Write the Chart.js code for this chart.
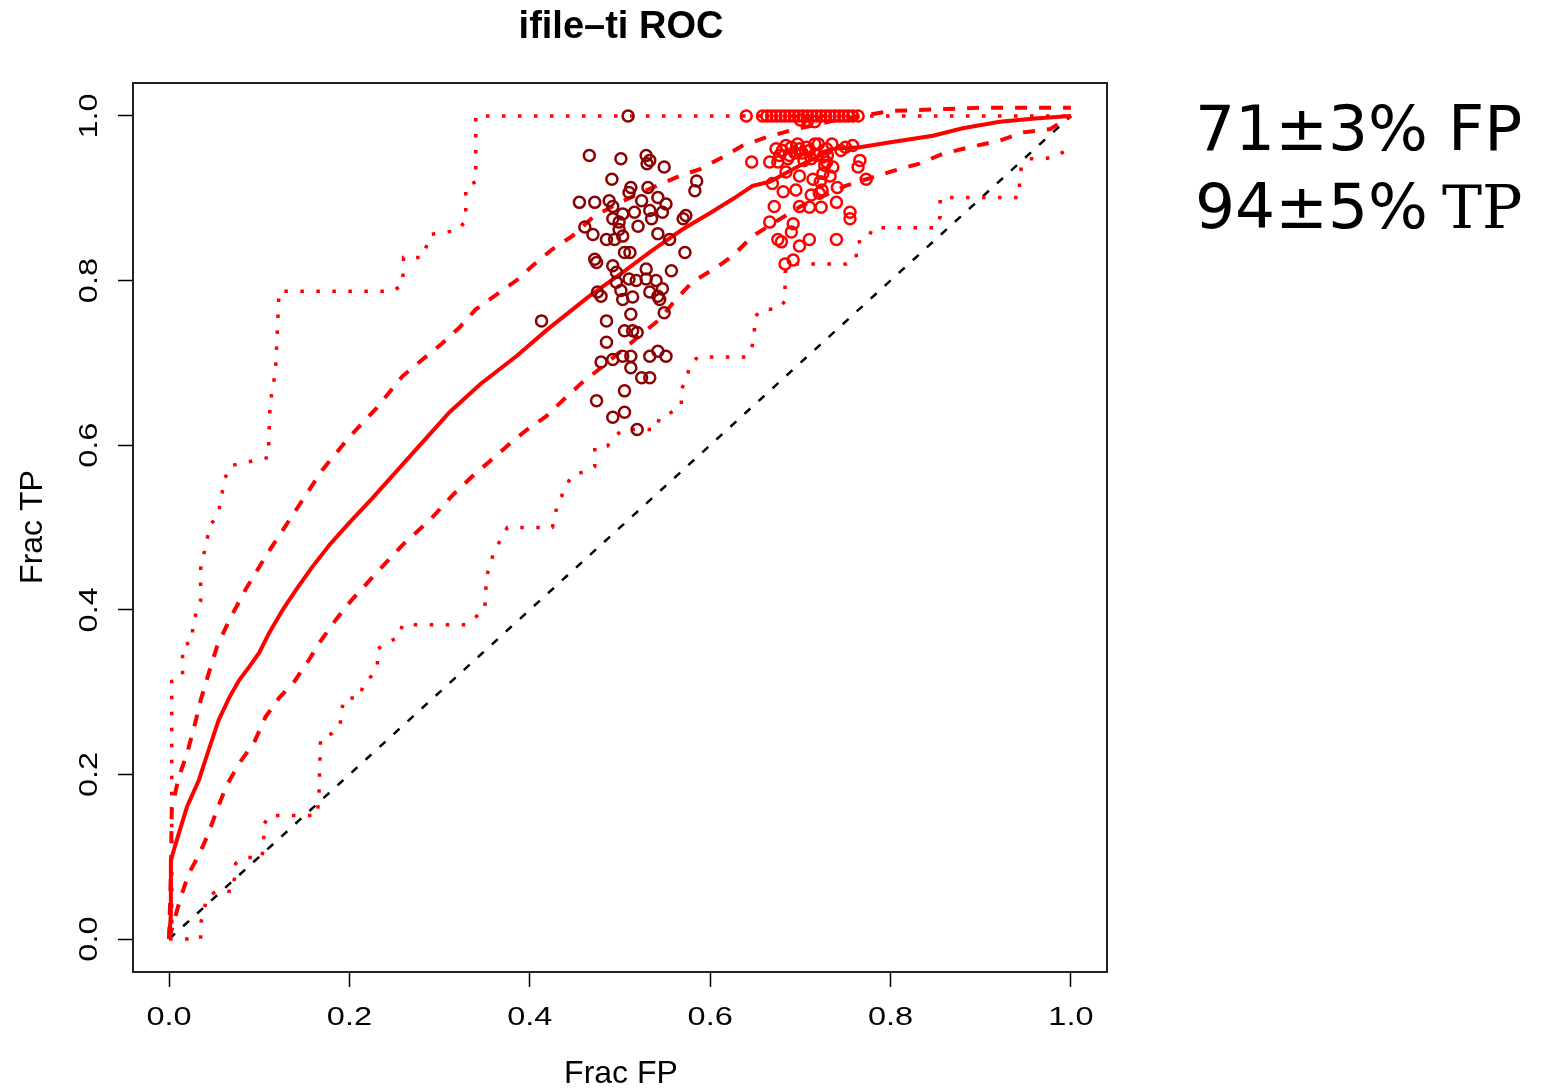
<!DOCTYPE html>
<html>
<head>
<title>ifile-ti ROC</title>
<script src="https://cdn.jsdelivr.net/npm/chart.js"></script>
<style>
  body { margin: 0; background: #fff; }
  #roc { display: block; }
</style>
</head>
<body>
<canvas id="roc" width="1544" height="1088"></canvas>
<script>
// axis ticks
const tickValues = [0, 0.2, 0.4, 0.6, 0.8, 1.0];
const tickLabels = ['0.0', '0.2', '0.4', '0.6', '0.8', '1.0'];

// mean ROC curve (solid)
const meanFP = [0, 0.002, 0.002, 0.011, 0.020, 0.033, 0.044, 0.055, 0.067, 0.078, 0.089, 0.100, 0.111, 0.126, 0.140, 0.158, 0.178, 0.20, 0.225, 0.26, 0.311, 0.345, 0.385, 0.42, 0.466, 0.503, 0.535, 0.569, 0.6, 0.625, 0.647, 0.666, 0.70, 0.736, 0.766, 0.8, 0.847, 0.88, 0.921, 0.96, 1.0];
const meanTP = [0, 0.03, 0.096, 0.129, 0.161, 0.193, 0.23, 0.266, 0.294, 0.315, 0.331, 0.348, 0.372, 0.40, 0.423, 0.451, 0.479, 0.506, 0.535, 0.578, 0.64, 0.674, 0.708, 0.741, 0.781, 0.81, 0.836, 0.862, 0.882, 0.899, 0.915, 0.92, 0.94, 0.96, 0.962, 0.968, 0.976, 0.985, 0.993, 0.997, 1.0];

// upper / lower dashed bands
const hiFP = [0, 0.002, 0.003, 0.011, 0.02, 0.028, 0.035, 0.044, 0.053, 0.067, 0.085, 0.11, 0.14, 0.17, 0.2, 0.23, 0.259, 0.281, 0.302, 0.322, 0.34, 0.363, 0.385, 0.403, 0.425, 0.447, 0.47, 0.5, 0.53, 0.566, 0.588, 0.614, 0.636, 0.662, 0.688, 0.74, 0.8, 0.9, 1.0];
const hiTP = [0, 0.08, 0.16, 0.197, 0.226, 0.258, 0.29, 0.323, 0.355, 0.388, 0.425, 0.47, 0.52, 0.57, 0.61, 0.645, 0.684, 0.704, 0.723, 0.743, 0.765, 0.783, 0.8, 0.818, 0.838, 0.854, 0.877, 0.895, 0.91, 0.927, 0.935, 0.95, 0.964, 0.974, 0.982, 0.995, 1.006, 1.01, 1.01];
const loFP = [0, 0.005, 0.013, 0.022, 0.033, 0.044, 0.053, 0.064, 0.078, 0.094, 0.107, 0.122, 0.139, 0.155, 0.168, 0.185, 0.201, 0.23, 0.26, 0.29, 0.315, 0.336, 0.355, 0.377, 0.397, 0.418, 0.44, 0.458, 0.48, 0.503, 0.544, 0.562, 0.58, 0.607, 0.625, 0.647, 0.7, 0.75, 0.802, 0.832, 0.858, 0.888, 0.921, 0.947, 0.977, 1.0];
const loTP = [0, 0.02, 0.051, 0.08, 0.102, 0.129, 0.157, 0.187, 0.214, 0.238, 0.27, 0.293, 0.313, 0.339, 0.362, 0.388, 0.41, 0.445, 0.48, 0.51, 0.54, 0.562, 0.58, 0.601, 0.619, 0.635, 0.658, 0.676, 0.695, 0.716, 0.753, 0.777, 0.798, 0.816, 0.83, 0.854, 0.89, 0.915, 0.933, 0.942, 0.954, 0.962, 0.97, 0.98, 0.984, 1.0];

// dotted step envelopes
const upStepFP = [0, 0.003, 0.003, 0.015, 0.015, 0.026, 0.026, 0.035, 0.035, 0.045, 0.055, 0.062, 0.068, 0.11, 0.112, 0.118, 0.122, 0.248, 0.259, 0.26, 0.281, 0.29, 0.32, 0.329, 0.329, 0.34, 0.34, 1.0];
const upStepTP = [0, 0.02, 0.313, 0.319, 0.356, 0.362, 0.384, 0.41, 0.45, 0.5, 0.52, 0.56, 0.575, 0.585, 0.65, 0.69, 0.787, 0.787, 0.795, 0.828, 0.828, 0.856, 0.861, 0.873, 0.914, 0.92, 1.0, 1.0];
const lowStepFP = [0, 0.035, 0.035, 0.042, 0.052, 0.071, 0.074, 0.085, 0.103, 0.105, 0.105, 0.111, 0.164, 0.166, 0.168, 0.181, 0.19, 0.19, 0.195, 0.211, 0.216, 0.224, 0.231, 0.231, 0.242, 0.254, 0.259, 0.329, 0.35, 0.352, 0.36, 0.375, 0.425, 0.43, 0.44, 0.447, 0.462, 0.472, 0.472, 0.486, 0.494, 0.503, 0.54, 0.544, 0.557, 0.568, 0.568, 0.574, 0.577, 0.586, 0.64, 0.646, 0.649, 0.649, 0.657, 0.675, 0.683, 0.683, 0.688, 0.751, 0.762, 0.762, 0.775, 0.78, 0.851, 0.855, 0.855, 0.943, 0.943, 0.945, 0.954, 0.971, 0.984, 0.997, 1.0];
const lowStepTP = [0, 0, 0.019, 0.05, 0.058, 0.058, 0.092, 0.099, 0.099, 0.117, 0.139, 0.15, 0.15, 0.169, 0.244, 0.25, 0.26, 0.274, 0.293, 0.293, 0.311, 0.319, 0.333, 0.352, 0.361, 0.366, 0.382, 0.382, 0.40, 0.44, 0.47, 0.50, 0.50, 0.525, 0.55, 0.564, 0.568, 0.574, 0.597, 0.599, 0.61, 0.619, 0.619, 0.634, 0.64, 0.647, 0.668, 0.68, 0.696, 0.707, 0.707, 0.717, 0.735, 0.755, 0.765, 0.765, 0.775, 0.81, 0.82, 0.82, 0.826, 0.846, 0.85, 0.864, 0.864, 0.878, 0.901, 0.901, 0.92, 0.938, 0.948, 0.948, 0.951, 0.96, 0.96];

// chance diagonal
const diagFP = [0, 1];
const diagTP = [0, 1];

// per-run operating points, first group (dark red)
const runsAFP = [0.509, 0.466, 0.501, 0.529, 0.533, 0.549, 0.53, 0.491, 0.585, 0.583, 0.512, 0.51, 0.531, 0.455, 0.472, 0.488, 0.492, 0.524, 0.542, 0.551, 0.533, 0.547, 0.503, 0.516, 0.492, 0.499, 0.52, 0.535, 0.573, 0.57, 0.461, 0.47, 0.485, 0.494, 0.503, 0.499, 0.542, 0.555, 0.572, 0.505, 0.511, 0.472, 0.474, 0.492, 0.496, 0.529, 0.557, 0.51, 0.518, 0.529, 0.54, 0.496, 0.475, 0.479, 0.547, 0.501, 0.514, 0.533, 0.542, 0.503, 0.544, 0.549, 0.512, 0.413, 0.485, 0.505, 0.514, 0.519, 0.485, 0.479, 0.492, 0.503, 0.512, 0.533, 0.542, 0.551, 0.512, 0.524, 0.533, 0.505, 0.474, 0.505, 0.492, 0.519];
const runsATP = [1.0, 0.952, 0.948, 0.952, 0.946, 0.938, 0.942, 0.923, 0.921, 0.909, 0.913, 0.907, 0.913, 0.895, 0.895, 0.897, 0.89, 0.897, 0.901, 0.893, 0.885, 0.883, 0.881, 0.883, 0.875, 0.871, 0.866, 0.875, 0.879, 0.875, 0.865, 0.856, 0.85, 0.85, 0.854, 0.862, 0.857, 0.85, 0.834, 0.834, 0.834, 0.826, 0.822, 0.818, 0.81, 0.814, 0.812, 0.802, 0.8, 0.802, 0.8, 0.798, 0.786, 0.781, 0.79, 0.788, 0.78, 0.786, 0.781, 0.777, 0.777, 0.761, 0.759, 0.751, 0.751, 0.739, 0.739, 0.737, 0.725, 0.701, 0.704, 0.708, 0.708, 0.708, 0.714, 0.708, 0.694, 0.682, 0.682, 0.666, 0.654, 0.64, 0.634, 0.619];

// second group (red)
const runsBFP = [0.64, 0.658, 0.663, 0.668, 0.673, 0.678, 0.683, 0.688, 0.693, 0.698, 0.703, 0.708, 0.713, 0.718, 0.723, 0.728, 0.733, 0.738, 0.743, 0.748, 0.753, 0.758, 0.764, 0.716, 0.70, 0.708,
  0.646, 0.666, 0.675, 0.673, 0.684, 0.699, 0.716, 0.729, 0.758, 0.766, 0.764, 0.773, 0.688, 0.704, 0.718, 0.729, 0.736, 0.684, 0.699, 0.714, 0.733, 0.669, 0.681, 0.695, 0.712, 0.721, 0.741, 0.671, 0.699, 0.71, 0.723, 0.74, 0.755, 0.755, 0.666, 0.692, 0.69, 0.675, 0.679, 0.699, 0.71, 0.74, 0.683, 0.692, 0.725, 0.725, 0.727, 0.71, 0.694, 0.68,
  0.677, 0.686, 0.69, 0.697, 0.702, 0.707, 0.712, 0.72, 0.73, 0.735, 0.745, 0.75, 0.722, 0.724];
const runsBTP = [1.0, 1.0, 1.0, 1.0, 1.0, 1.0, 1.0, 1.0, 1.0, 1.0, 1.0, 1.0, 1.0, 1.0, 1.0, 1.0, 1.0, 1.0, 1.0, 1.0, 1.0, 1.0, 1.0, 0.993, 0.995, 0.994,
  0.944, 0.944, 0.944, 0.96, 0.964, 0.96, 0.966, 0.96, 0.964, 0.946, 0.938, 0.923, 0.952, 0.946, 0.952, 0.944, 0.938, 0.932, 0.927, 0.923, 0.927, 0.918, 0.908, 0.91, 0.904, 0.906, 0.913, 0.89, 0.89, 0.889, 0.889, 0.895, 0.883, 0.875, 0.871, 0.869, 0.859, 0.85, 0.847, 0.842, 0.85, 0.85, 0.82, 0.825, 0.93, 0.95, 0.94, 0.958, 0.955, 0.958,
  0.952, 0.948, 0.962, 0.966, 0.955, 0.962, 0.948, 0.966, 0.952, 0.966, 0.958, 0.962, 0.92, 0.91];

function pts(xs, ys) {
  return xs.map((v, i) => ({ x: v, y: ys[i] }));
}

function lineSet(xs, ys, color, width, dash) {
  return {
    data: pts(xs, ys),
    showLine: true,
    borderColor: color,
    borderWidth: width,
    borderDash: dash,
    pointRadius: 0,
    fill: false,
    tension: 0
  };
}

function pointSet(xs, ys, color) {
  return {
    data: pts(xs, ys),
    showLine: false,
    borderColor: color,
    backgroundColor: 'rgba(0,0,0,0)',
    borderWidth: 2.5,
    pointRadius: 5.5,
    pointStyle: 'circle'
  };
}

// R-style text, box and labels drawn on top of the chart
const decor = {
  id: 'decor',
  afterDraw(chart) {
    const ctx = chart.ctx;
    const a = chart.chartArea;
    const xs = chart.scales.x, ys = chart.scales.y;
    ctx.save();
    ctx.strokeStyle = '#222';
    ctx.lineWidth = 2;
    ctx.strokeRect(a.left, a.top, a.right - a.left, a.bottom - a.top);

    ctx.fillStyle = '#000';
    ctx.textBaseline = 'alphabetic';
    ctx.textAlign = 'center';
    ctx.font = '25px "Liberation Sans", Arial, sans-serif';
    tickValues.forEach((v, i) => {
      ctx.save();
      ctx.translate(xs.getPixelForValue(v), 1025);
      ctx.scale(1.3, 1);
      ctx.fillText(tickLabels[i], 0, 0);
      ctx.restore();

      ctx.save();
      ctx.translate(97, ys.getPixelForValue(v));
      ctx.rotate(-Math.PI / 2);
      ctx.scale(1.3, 1);
      ctx.fillText(tickLabels[i], 0, 0);
      ctx.restore();
    });

    ctx.font = 'bold 38px "Liberation Sans", Arial, sans-serif';
    ctx.fillText('ifile\u2013ti ROC', 621, 38);

    ctx.font = '32px "Liberation Sans", Arial, sans-serif';
    ctx.fillText('Frac FP', 621, 1083);
    ctx.save();
    ctx.translate(42, 527);
    ctx.rotate(-Math.PI / 2);
    ctx.fillText('Frac TP', 0, 0);
    ctx.restore();

    ctx.textAlign = 'left';
    ctx.font = '63px "DejaVu Sans", sans-serif';
    ctx.fillText('71\u00b13% FP', 1195, 150);
    const first = '94\u00b15% ';
    ctx.fillText(first, 1195, 228);
    const w = ctx.measureText(first).width;
    ctx.font = '60px "DejaVu Serif", serif';
    ctx.fillText('TP', 1195 + w - 6, 228);
    ctx.restore();
  }
};

const axisCommon = {
  type: 'linear',
  min: -0.04,
  max: 1.04,
  grid: {
    display: true,
    drawOnChartArea: false,
    drawTicks: true,
    tickLength: 15,
    tickColor: '#000',
    tickWidth: 1.5
  },
  border: { display: false },
  ticks: { display: false },
  afterBuildTicks: (s) => { s.ticks = tickValues.map(v => ({ value: v })); }
};

new Chart(document.getElementById('roc'), {
  type: 'scatter',
  data: {
    datasets: [
      pointSet(runsBFP, runsBTP, '#ff0000'),
      pointSet(runsAFP, runsATP, '#8b0000'),
      lineSet(meanFP, meanTP, '#ff0000', 4, []),
      lineSet(hiFP, hiTP, '#ff0000', 4, [12, 12]),
      lineSet(loFP, loTP, '#ff0000', 4, [12, 12]),
      lineSet(upStepFP, upStepTP, '#ff0000', 3.5, [3.5, 12.5]),
      lineSet(lowStepFP, lowStepTP, '#ff0000', 3.5, [3.5, 12.5]),
      lineSet(diagFP, diagTP, '#000000', 2.5, [8, 11])
    ]
  },
  options: {
    responsive: false,
    animation: false,
    layout: { padding: { left: 0, right: 437, top: 83, bottom: 0 } },
    plugins: { legend: { display: false }, tooltip: { enabled: false }, title: { display: false } },
    scales: {
      x: Object.assign({}, axisCommon, {
        position: 'bottom',
        afterFit: (s) => { s.height = 116; }
      }),
      y: Object.assign({}, axisCommon, {
        position: 'left',
        afterFit: (s) => { s.width = 133; }
      })
    }
  },
  plugins: [decor]
});
</script>
</body>
</html>
